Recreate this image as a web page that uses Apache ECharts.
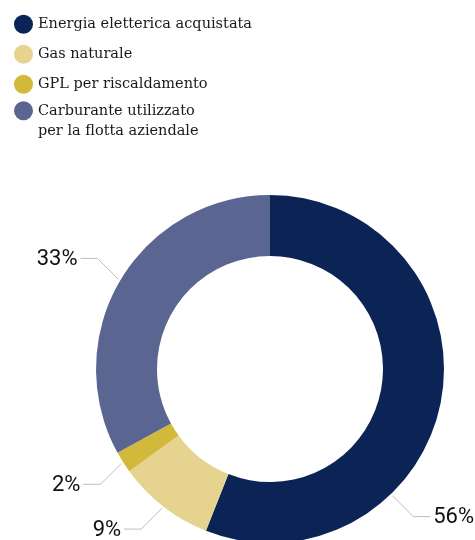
<!DOCTYPE html>
<html>
<head>
<meta charset="utf-8">
<script src="https://cdn.jsdelivr.net/npm/echarts@6/dist/echarts.min.js"></script>
<style>
  html, body { margin: 0; padding: 0; background: #ffffff; }
  #chart { width: 475px; height: 540px; }
</style>
</head>
<body>
<div id="chart"></div>
<script>
// Energy consumption breakdown (percent)
const categories = [
  'Energia eletterica acquistata',
  'Gas naturale',
  'GPL per riscaldamento',
  'Carburante utilizzato\nper la flotta aziendale'
];
const shares = [56, 9, 2, 33];
const colors = ['#0B2455', '#E6D38F', '#D3B93B', '#5A6592'];

const CX = 270, CY = 369, R_IN = 113, R_OUT = 174;

const chart = echarts.init(document.getElementById('chart'), null, { renderer: 'canvas' });

const legendText = {
  fontFamily: 'DejaVu Serif',
  fontSize: 14.5,
  color: '#1a1a1a',
  lineHeight: 20.5
};

chart.setOption({
  animation: false,
  color: colors,
  legend: [
    {
      data: categories.slice(0, 3),
      orient: 'vertical',
      left: 14,
      top: 14,
      padding: 0,
      itemWidth: 19,
      itemHeight: 19,
      itemGap: 9.5,
      icon: 'circle',
      selectedMode: false,
      textStyle: legendText
    },
    {
      data: categories.slice(3),
      orient: 'vertical',
      left: 14,
      top: 80,
      padding: 0,
      itemWidth: 19,
      itemHeight: 19,
      icon: 'circle',
      selectedMode: false,
      // a blank leading line keeps the first text line level with the dot
      formatter: name => '\n' + name,
      textStyle: legendText
    }
  ],
  series: [{
    type: 'pie',
    center: [CX, CY],
    radius: [R_IN, R_OUT],
    startAngle: 90,
    clockwise: true,
    silent: true,
    data: categories.map((name, i) => ({ name: name, value: shares[i] })),
    label: {
      show: true,
      position: 'outside',
      formatter: '{c}%',
      fontFamily: 'Roboto',
      fontSize: 22,
      color: '#111111',
      width: 60,
      overflow: 'none'
    },
    labelLine: {
      show: true,
      length: 20,
      length2: 17,
      smooth: false,
      lineStyle: { color: '#BDBDBD', width: 1 }
    },
    labelLayout: function (p) {
      // direction of the slice's label anchor, measured from the ring centre
      let ang = Math.atan2(p.labelLinePoints[0][1] - CY, p.labelLinePoints[0][0] - CX);
      if (p.dataIndex === 0) {
        // the large slice carries its label lower on the ring
        ang = 46 * Math.PI / 180;
      }
      const x0 = CX + (R_OUT + 2) * Math.cos(ang);
      const y0 = CY + (R_OUT + 2) * Math.sin(ang);
      const sx = x0 < CX ? -1 : 1;
      const sy = y0 < CY ? -1 : 1;
      const bx = x0 + sx * 21, by = y0 + sy * 21;
      const ex = bx + sx * 17;
      return {
        x: ex + sx * 3,
        y: by + 1,
        align: sx < 0 ? 'right' : 'left',
        verticalAlign: 'middle',
        labelLinePoints: [[x0, y0], [bx, by], [ex, by]]
      };
    }
  }]
});
</script>
</body>
</html>
